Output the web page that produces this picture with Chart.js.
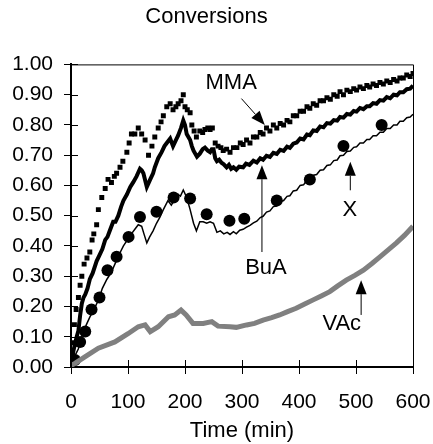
<html>
<head>
  <script src="https://cdn.jsdelivr.net/npm/chart.js"></script>
  <style>
    body { margin: 0; background: #fff; }
    #box { width: 433px; height: 444px; }
  </style>
</head>
<body>
<div id="box"><canvas id="myChart" width="433" height="444"></canvas></div>

<script>
// time axis values (min) and conversions
var mmaT = [3,6,9,13,16,19,23,28,33,37,40,45,48,54,60,65,71,76,80,86,91,98,102,106,112,118,124,130,136,142,147,153,158,162,168,174,179,184,188,193,197,200,204,209,212,216,220,226,231,235,240,244,248,253,258,263,267,273,279,285,291,297,302,308,314,320,326,332,337,343,349,355,361,367,373,379,384,390,396,402,408,414,419,425,431,437,443,449,455,461,467,472,478,484,490,496,501,507,513,519,524,530,536,542,548,554,560,566,572,577,583,589,595,600]
var mmaV = [0.08,0.14,0.19,0.23,0.27,0.30,0.34,0.36,0.38,0.42,0.44,0.47,0.52,0.56,0.59,0.62,0.61,0.63,0.64,0.66,0.68,0.71,0.74,0.77,0.77,0.79,0.77,0.75,0.70,0.73,0.76,0.79,0.81,0.83,0.86,0.87,0.85,0.86,0.87,0.88,0.90,0.86,0.85,0.84,0.80,0.78,0.76,0.78,0.775,0.785,0.79,0.785,0.79,0.74,0.73,0.725,0.715,0.72,0.71,0.725,0.725,0.74,0.735,0.75,0.74,0.76,0.76,0.775,0.77,0.79,0.78,0.80,0.79,0.805,0.80,0.815,0.81,0.83,0.83,0.845,0.845,0.86,0.855,0.87,0.865,0.88,0.88,0.89,0.885,0.90,0.895,0.91,0.90,0.915,0.91,0.92,0.915,0.925,0.92,0.93,0.925,0.935,0.93,0.94,0.935,0.945,0.94,0.95,0.945,0.955,0.955,0.965,0.96,0.97]

var buaT = [0,5,10,13,16,19,22,25,29,33,38,45,50,55,60,64,68,74,78,83,88,92,98,104,109,115,121,124,127,133,139,144,147,153,159,164,168,174,179,184,188,193,197,200,203,206,209,212,215,221,226,231,235,240,244,247,250,253,256,260,264,268,273,277,281,285,290,295,302,307,313,320,326,332,337,343,349,355,361,367,373,379,384,390,396,402,408,414,419,425,431,437,443,449,455,461,467,472,478,484,490,496,501,507,513,519,524,530,536,542,548,554,560,566,572,577,583,589,595,600]
var buaV = [0.01,0.06,0.10,0.12,0.17,0.21,0.23,0.24,0.26,0.29,0.31,0.35,0.37,0.39,0.42,0.43,0.45,0.48,0.48,0.50,0.53,0.55,0.57,0.595,0.61,0.63,0.655,0.65,0.64,0.595,0.62,0.64,0.66,0.69,0.71,0.73,0.74,0.755,0.73,0.75,0.765,0.79,0.815,0.80,0.77,0.76,0.75,0.73,0.715,0.695,0.705,0.72,0.725,0.715,0.71,0.72,0.72,0.69,0.68,0.685,0.675,0.67,0.66,0.668,0.655,0.66,0.652,0.662,0.66,0.672,0.668,0.682,0.676,0.69,0.685,0.698,0.694,0.708,0.704,0.718,0.714,0.728,0.724,0.738,0.742,0.755,0.752,0.768,0.766,0.782,0.78,0.795,0.792,0.806,0.804,0.816,0.814,0.826,0.824,0.836,0.834,0.846,0.844,0.856,0.852,0.862,0.862,0.872,0.87,0.882,0.88,0.892,0.888,0.9,0.898,0.908,0.908,0.918,0.92,0.93]

var xT = [0,5,9,13,17,21,27,33,40,48,55,63,70,77,84,92,99,106,112,118,124,128,133,138,144,150,156,162,170,176,182,188,192,197,203,209,215,220,226,232,238,244,250,256,262,268,274,279,285,290,296,302,308,314,320,326,332,337,343,349,355,361,367,373,379,384,390,396,402,408,414,419,425,431,437,443,449,455,461,467,472,478,484,490,496,501,507,513,519,524,530,536,542,548,554,560,566,572,577,583,589,595,600]
var xV = [0.01,0.03,0.045,0.06,0.09,0.11,0.14,0.165,0.19,0.22,0.26,0.29,0.31,0.34,0.37,0.40,0.42,0.44,0.455,0.47,0.465,0.44,0.41,0.43,0.45,0.475,0.495,0.52,0.55,0.535,0.555,0.57,0.565,0.585,0.56,0.52,0.475,0.45,0.48,0.48,0.475,0.48,0.475,0.445,0.45,0.44,0.445,0.438,0.447,0.44,0.452,0.455,0.462,0.468,0.476,0.482,0.494,0.498,0.512,0.516,0.53,0.532,0.546,0.55,0.564,0.566,0.582,0.584,0.6,0.602,0.618,0.62,0.634,0.636,0.65,0.652,0.666,0.668,0.682,0.684,0.698,0.7,0.712,0.714,0.726,0.728,0.74,0.74,0.752,0.752,0.764,0.764,0.776,0.776,0.788,0.788,0.8,0.8,0.812,0.812,0.824,0.826,0.835]

var xDotT = [7,16,25,36,50,64,80,101,121,150,180,209,238,278,304,361,419,478,545]
var xDotV = [0.023,0.083,0.117,0.19,0.23,0.32,0.364,0.43,0.496,0.513,0.56,0.557,0.505,0.483,0.49,0.55,0.62,0.73,0.80]

var vacT = [0,7,25,48,77,100,118,130,139,153,171,182,193,202,214,232,247,258,279,290,308,322,337,352,366,380,395,410,424,439,454,468,483,498,513,528,542,556,571,585,600]
var vacV = [0.005,0.012,0.034,0.062,0.083,0.11,0.133,0.139,0.117,0.133,0.166,0.172,0.188,0.172,0.144,0.144,0.15,0.135,0.133,0.131,0.139,0.144,0.155,0.163,0.172,0.183,0.194,0.208,0.221,0.235,0.249,0.268,0.287,0.303,0.32,0.342,0.364,0.386,0.41,0.435,0.465]

// arrow labels: text, label position, arrow tail and tip (data units)
var annText = ["MMA", "BuA", "X", "VAc"]
var annLabelT = [281, 342, 489, 475]
var annLabelV = [0.94, 0.327, 0.518, 0.142]
var annFromT = [299, 335, 490, 509]
var annFromV = [0.887, 0.38, 0.584, 0.172]
var annToT = [340, 335, 490, 509]
var annToV = [0.80, 0.667, 0.678, 0.287]

const pts = (t, v) => t.map((x, i) => ({x: x, y: v[i]}))

// frame on top/right, crossing ticks and the arrow labels
const extras = {
  id: 'extras',
  afterDatasetsDraw(chart) {
    const c = chart.ctx, a = chart.chartArea
    const sx = chart.scales.x, sy = chart.scales.y
    c.save()
    c.strokeStyle = '#000'
    c.lineWidth = 1
    c.beginPath()
    c.moveTo(a.left, a.top + 0.5); c.lineTo(a.right + 0.5, a.top + 0.5)
    c.lineTo(a.right + 0.5, a.bottom)
    sx.ticks.forEach(t => {
      let p = Math.round(sx.getPixelForValue(t.value)) + 0.5
      c.moveTo(p, a.bottom); c.lineTo(p, a.bottom - 7)
    })
    sy.ticks.forEach(t => {
      let p = Math.round(sy.getPixelForValue(t.value)) + 0.5
      c.moveTo(a.left, p); c.lineTo(a.left + 7, p)
    })
    c.stroke()

    c.fillStyle = '#000'
    c.font = '22px "Liberation Sans", Arial, sans-serif'
    c.textAlign = 'center'
    c.textBaseline = 'middle'
    annText.forEach((txt, i) => {
      c.fillText(txt, sx.getPixelForValue(annLabelT[i]), sy.getPixelForValue(annLabelV[i]))
      let x0 = sx.getPixelForValue(annFromT[i]), y0 = sy.getPixelForValue(annFromV[i])
      let x1 = sx.getPixelForValue(annToT[i]), y1 = sy.getPixelForValue(annToV[i])
      let ang = Math.atan2(y1 - y0, x1 - x0)
      let hl = 14, hw = 5.5
      let bx = x1 - hl * Math.cos(ang), by = y1 - hl * Math.sin(ang)
      c.beginPath()
      c.moveTo(x0, y0); c.lineTo(bx, by)
      c.stroke()
      c.beginPath()
      c.moveTo(x1, y1)
      c.lineTo(bx + hw * Math.sin(ang), by - hw * Math.cos(ang))
      c.lineTo(bx - hw * Math.sin(ang), by + hw * Math.cos(ang))
      c.closePath()
      c.fill()
    })
    c.restore()
  }
}

const tickFont = {family: '"Liberation Sans", Arial, sans-serif', size: 21}

const ctx = document.getElementById('myChart')
new Chart(ctx, {
  type: 'line',
  data: {
    datasets: [
      {label: 'VAc', data: pts(vacT, vacV), borderColor: 'rgb(128,128,128)', borderWidth: 5, pointRadius: 0, tension: 0},
      {label: 'X', data: pts(xT, xV), borderColor: '#000', borderWidth: 1.5, pointRadius: 0, tension: 0},
      {label: 'X data', data: pts(xDotT, xDotV), showLine: false, pointRadius: 6, pointBackgroundColor: '#000', pointBorderWidth: 0},
      {label: 'BuA', data: pts(buaT, buaV), borderColor: '#000', borderWidth: 4, pointRadius: 0, tension: 0},
      {label: 'MMA', data: pts(mmaT, mmaV), showLine: false, pointStyle: 'rect', pointRadius: 3.5, pointBackgroundColor: '#000', pointBorderWidth: 0}
    ]
  },
  options: {
    responsive: false,
    animation: false,
    layout: {padding: {left: 0, right: 20, top: 0, bottom: 0}},
    plugins: {
      legend: {display: false},
      tooltip: {enabled: false},
      title: {
        display: true,
        text: 'Conversions',
        color: '#000',
        font: {family: '"Liberation Sans", Arial, sans-serif', size: 22, weight: 'normal'},
        padding: {top: 4, bottom: 34}
      }
    },
    scales: {
      x: {
        type: 'linear',
        min: 0, max: 600,
        afterFit: s => { s.height = 77; s.paddingLeft = 0; s.paddingRight = 0 },
        ticks: {stepSize: 100, color: '#000', font: tickFont, padding: 16, maxRotation: 0},
        grid: {drawOnChartArea: false, color: '#000', tickLength: 7, tickWidth: 1},
        border: {color: '#000', width: 2},
        title: {display: true, text: 'Time (min)', color: '#000', font: {family: '"Liberation Sans", Arial, sans-serif', size: 22}, padding: {top: 0, bottom: 0}}
      },
      y: {
        min: 0, max: 1,
        afterFit: s => { s.width = 71 },
        ticks: {stepSize: 0.1, color: '#000', font: tickFont, padding: 11, callback: v => v.toFixed(2)},
        grid: {drawOnChartArea: false, color: '#000', tickLength: 7, tickWidth: 1},
        border: {color: '#000', width: 2}
      }
    }
  },
  plugins: [extras]
})
</script>
</body>
</html>
